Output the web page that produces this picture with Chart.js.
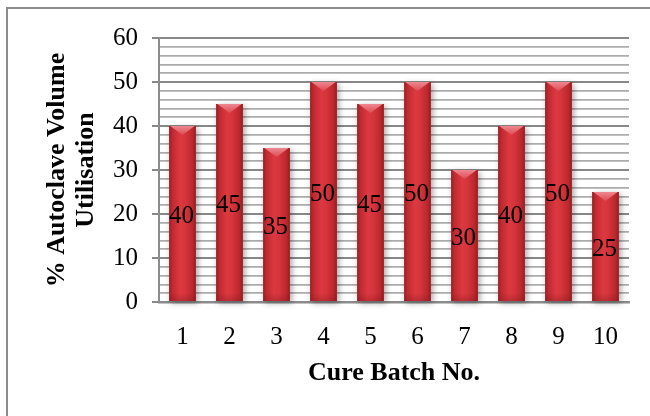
<!DOCTYPE html>
<html>
<head>
<meta charset="utf-8">
<script src="https://cdn.jsdelivr.net/npm/chart.js@4/dist/chart.umd.min.js"></script>
<style>
  html, body { margin: 0; padding: 0; background: #ffffff; }
  #wrap { width: 650px; height: 416px; }
</style>
</head>
<body>
<div id="wrap"><canvas id="c" width="650" height="416"></canvas></div>
<script>
// Cure batches and their autoclave volume utilisation (%)
const batches = ['1', '2', '3', '4', '5', '6', '7', '8', '9', '10'];
const utilisation = [40, 45, 35, 50, 45, 50, 30, 40, 50, 25];
const yTitle = ['% Autoclave Volume', 'Utilisation'];
const xTitle = 'Cure Batch No.';

const serif = "'Liberation Serif', 'Times New Roman', serif";

// Grey frame around the whole figure
const framePlugin = {
  id: 'frame',
  beforeDraw(chart) {
    const ctx = chart.ctx;
    ctx.save();
    ctx.strokeStyle = '#8c8c8c';
    ctx.lineWidth = 2;
    ctx.strokeRect(7, 8, 720, 500);
    ctx.restore();
  }
};

// Soft drop shadow under each bar, then a shaded cylinder look with a bevelled top
const barStylePlugin = {
  id: 'barStyle',
  beforeDatasetsDraw(chart) {
    const ctx = chart.ctx;
    const meta = chart.getDatasetMeta(0);
    ctx.save();
    meta.data.forEach(bar => {
      const w = bar.width, left = bar.x - w / 2;
      ctx.shadowColor = 'rgba(0,0,0,0.35)';
      ctx.shadowBlur = 6;
      ctx.shadowOffsetX = 2;
      ctx.shadowOffsetY = 2;
      ctx.fillStyle = '#b02a30';
      ctx.fillRect(left, bar.y, w, bar.base - bar.y);
    });
    ctx.restore();
  },
  afterDatasetsDraw(chart) {
    const ctx = chart.ctx;
    const meta = chart.getDatasetMeta(0);
    ctx.save();
    meta.data.forEach(bar => {
      const w = bar.width, left = bar.x - w / 2, right = bar.x + w / 2;
      const top = bar.y, base = bar.base;
      const g = ctx.createLinearGradient(left, 0, right, 0);
      g.addColorStop(0, '#9a2025');
      g.addColorStop(0.12, '#bf2a31');
      g.addColorStop(0.4, '#dc3840');
      g.addColorStop(0.6, '#d6353c');
      g.addColorStop(0.88, '#ba282e');
      g.addColorStop(1, '#921e22');
      ctx.fillStyle = g;
      ctx.fillRect(left, top, w, base - top);
      // bevelled top
      const tg = ctx.createLinearGradient(0, top, 0, top + 9);
      tg.addColorStop(0, '#ee8790');
      tg.addColorStop(1, '#de4c54');
      ctx.fillStyle = tg;
      ctx.beginPath();
      ctx.moveTo(left + 1, top);
      ctx.lineTo(right - 1, top);
      ctx.lineTo(bar.x, top + 9);
      ctx.closePath();
      ctx.fill();
      // slightly darker foot
      const bg = ctx.createLinearGradient(0, base - 8, 0, base);
      bg.addColorStop(0, 'rgba(120,20,25,0)');
      bg.addColorStop(1, 'rgba(120,20,25,0.3)');
      ctx.fillStyle = bg;
      ctx.fillRect(left, base - 8, w, 8);
    });
    ctx.restore();
  }
};

// Value written inside each bar
const valueLabelPlugin = {
  id: 'valueLabels',
  afterDatasetsDraw(chart) {
    const ctx = chart.ctx;
    const meta = chart.getDatasetMeta(0);
    const values = chart.data.datasets[0].data;
    ctx.save();
    ctx.font = '25px ' + serif;
    ctx.fillStyle = '#000000';
    ctx.textAlign = 'center';
    ctx.textBaseline = 'middle';
    meta.data.forEach((bar, i) => {
      const mid = (bar.y + bar.base) / 2 + 3;
      ctx.fillText(String(values[i]), bar.x - 1, mid);
    });
    ctx.restore();
  }
};

new Chart(document.getElementById('c'), {
  type: 'bar',
  data: {
    labels: batches,
    datasets: [{
      data: utilisation,
      backgroundColor: '#c92f36',
      borderWidth: 0,
      barPercentage: 0.56,
      categoryPercentage: 1.0
    }]
  },
  options: {
    responsive: false,
    animation: false,
    events: [],
    layout: { padding: { left: 0, right: 21, top: 38, bottom: 0 } },
    plugins: {
      legend: { display: false },
      tooltip: { enabled: false },
      title: { display: false }
    },
    scales: {
      x: {
        grid: { display: false, drawTicks: false },
        border: { display: true, color: '#8c8c8c', width: 2.5 },
        ticks: {
          color: '#000000',
          font: { family: serif, size: 25 },
          padding: 20,
          maxRotation: 0
        },
        title: {
          display: true,
          text: xTitle,
          color: '#000000',
          font: { family: serif, size: 26, weight: 'bold', lineHeight: 1.12 },
          padding: { top: 0, bottom: 28 }
        },
        afterFit(scale) { scale.height = 114; }
      },
      y: {
        min: 0,
        max: 60,
        grid: {
          color: ctx => (ctx.tick && ctx.tick.value % 10 === 0) ? '#888888' : '#acacac',
          lineWidth: ctx => (ctx.tick && ctx.tick.value % 10 === 0) ? 2 : 1.7,
          tickColor: ctx => (ctx.tick && ctx.tick.value % 10 === 0) ? '#888888' : 'rgba(0,0,0,0)',
          tickLength: 7,
          tickWidth: 2
        },
        border: { display: true, color: '#8c8c8c', width: 2 },
        ticks: {
          stepSize: 2,
          autoSkip: false,
          color: '#000000',
          font: { family: serif, size: 25 },
          padding: 14,
          callback: v => (v % 10 === 0 ? String(v) : '')
        },
        title: {
          display: true,
          text: yTitle,
          color: '#000000',
          font: { family: serif, size: 26, weight: 'bold', lineHeight: 1.12 },
          padding: { top: 43, bottom: 0 }
        },
        afterFit(scale) { scale.width = 159; }
      }
    }
  },
  plugins: [framePlugin, barStylePlugin, valueLabelPlugin]
});
</script>
</body>
</html>
